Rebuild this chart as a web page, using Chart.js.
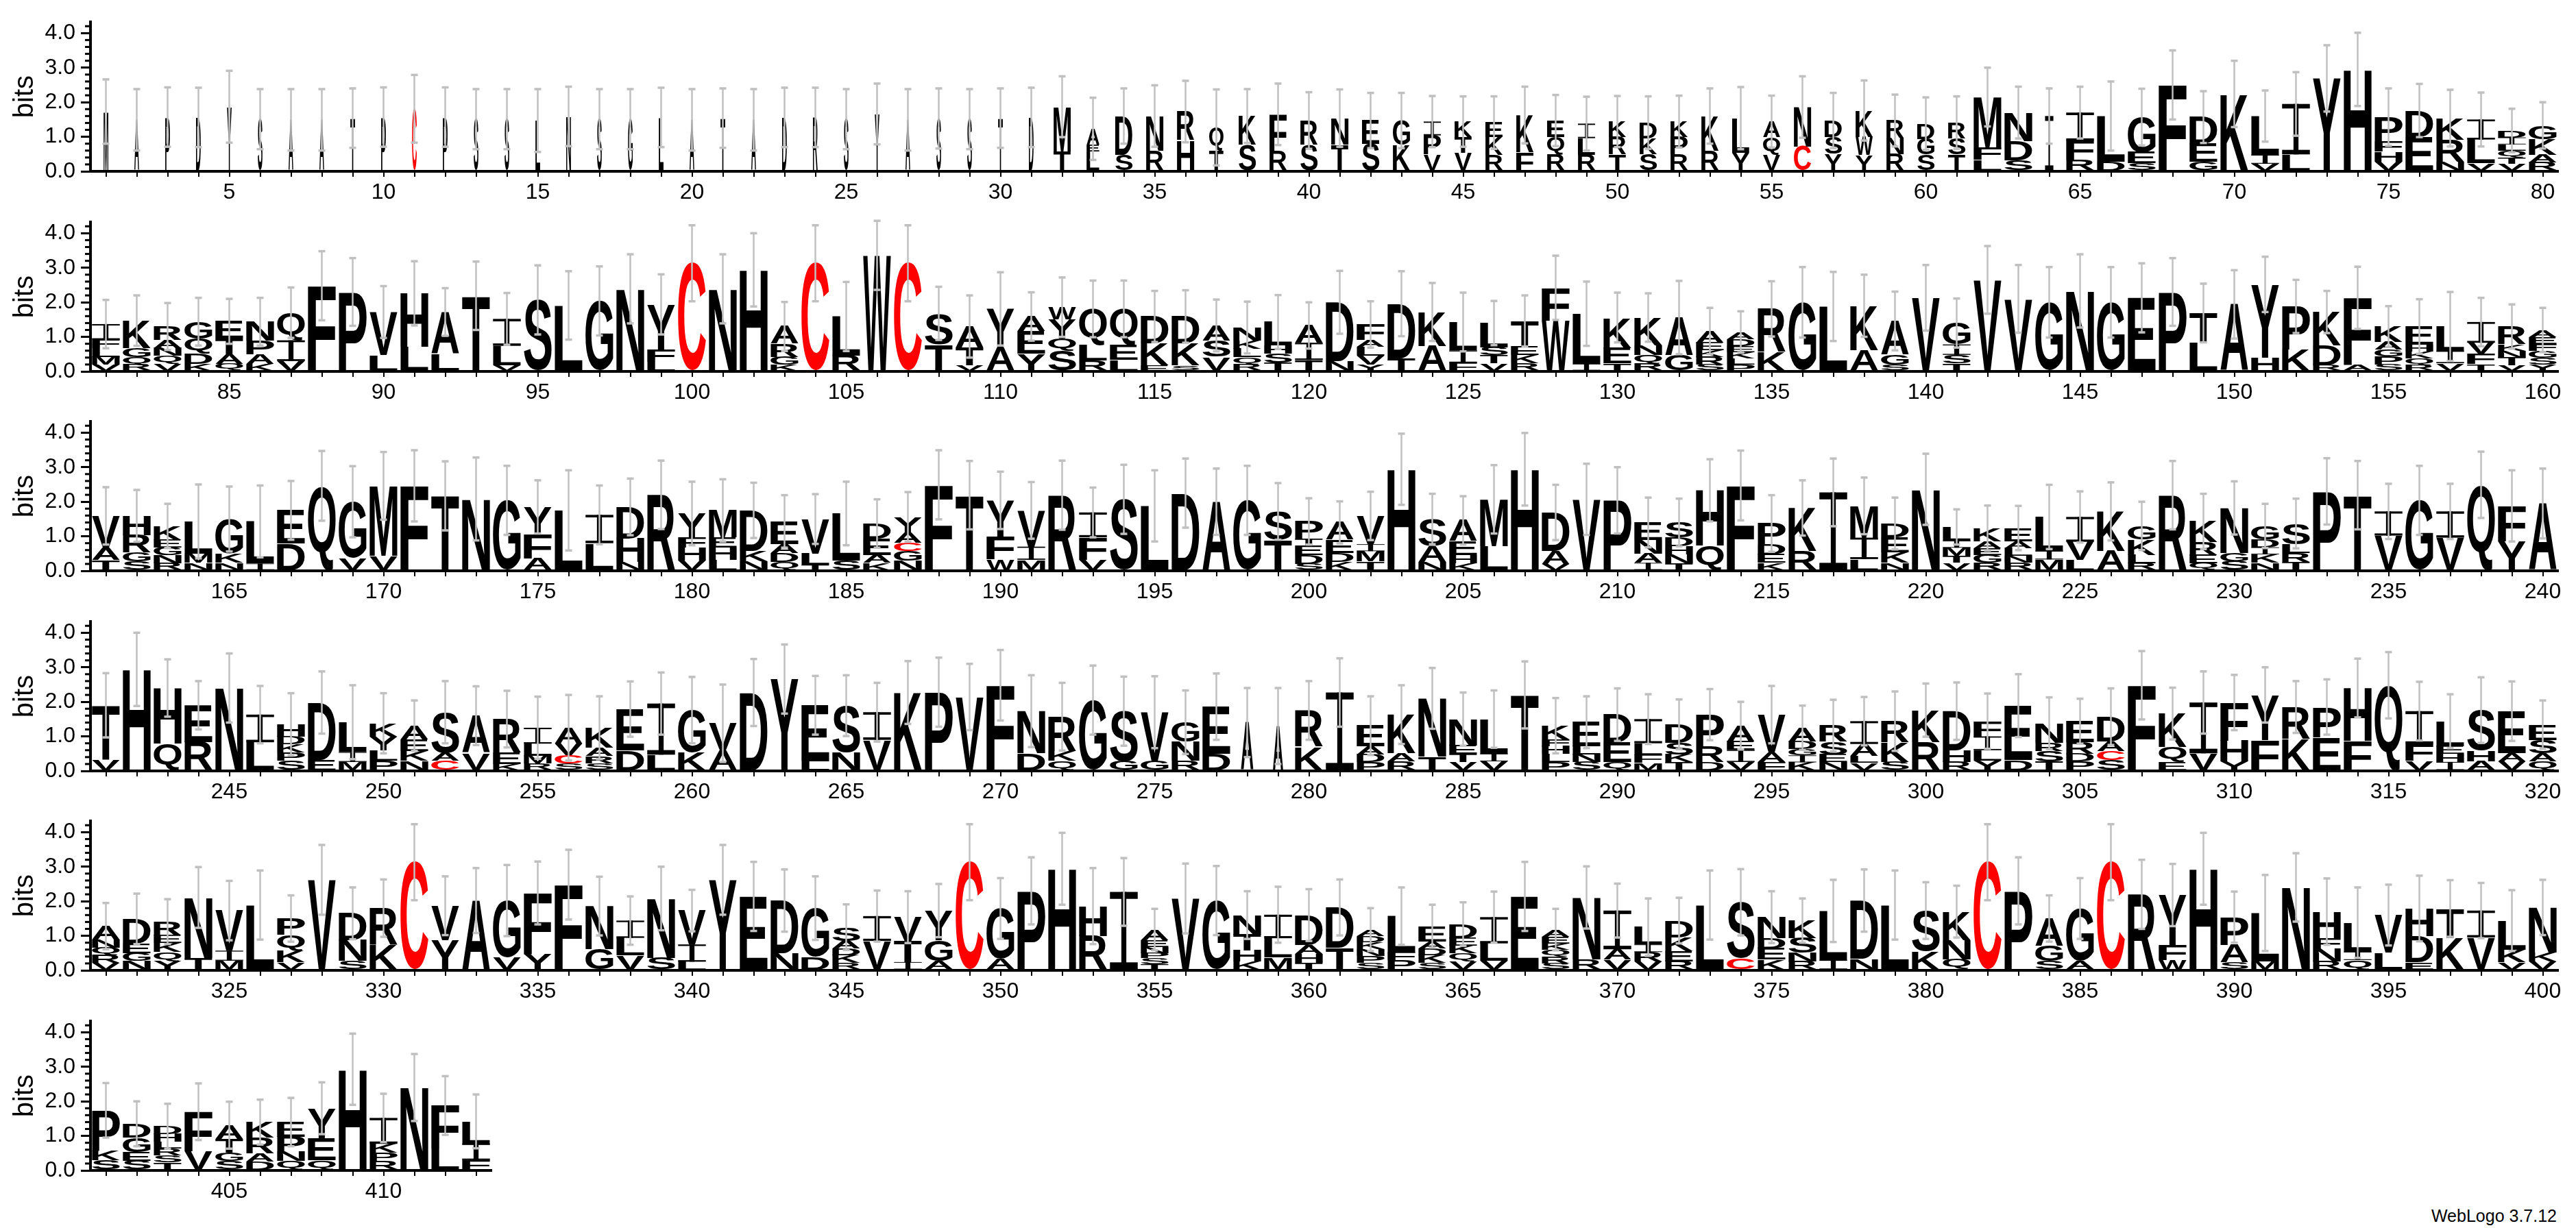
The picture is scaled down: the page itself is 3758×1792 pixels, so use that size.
<!DOCTYPE html>
<html>
<head>
<meta charset="utf-8">
<script src="https://cdn.jsdelivr.net/npm/chart.js@4.4.1/dist/chart.umd.min.js"></script>
<style>
body { margin: 0; background: #fff; width: 3758px; height: 1792px; position: relative; overflow: hidden; }
canvas { position: absolute; left: 0; }
#credit { position: absolute; right: 28px; top: 1762px; font: 25px/25px 'Liberation Sans', Arial, sans-serif; color: #000; }
</style>
</head>
<body>
<canvas id="row1" width="3758" height="292" style="top:5px"></canvas>
<canvas id="row2" width="3758" height="292" style="top:297px"></canvas>
<canvas id="row3" width="3758" height="292" style="top:588px"></canvas>
<canvas id="row4" width="3758" height="292" style="top:880px"></canvas>
<canvas id="row5" width="3758" height="292" style="top:1171px"></canvas>
<canvas id="row6" width="3758" height="292" style="top:1463px"></canvas>
<div id="credit">WebLogo 3.7.12</div>
<script>
// each stack: letters listed top -> bottom, bits in the same order
const rowStart = [1, 81, 161, 241, 321, 401];

const res1 = ["M","A","P","D","Y","S","A","A","T","P","C","P","S","S","L","N","S","G","L","A","T","A","D","R","S","Y","A","S","S","T","D",
"MT","AEL","DS","NR","RH","QT","KS","FR","RS","NT","ES","GK","IPV","KTV","EKR","KF","EQR","ILR","KRT","DKS","KPR","KR","LY","AQV","NC","DSY","KWY","RNR","DGS","RST","MFL","NDS","I","IFR","LD","GES","F","DEG","K","LIV","IL","Y","H","PFHV","DE","KRN","ILV","DILQTV","GKAR"];
const bits1 = [[1.73],[1.49],[1.57],[1.56],[1.87],[1.51],[1.49],[1.49],[1.54],[1.57],[1.81],[1.57],[1.51],[1.51],[1.47],[1.59],[1.51],[1.51],[1.56],[1.49],[1.54],[1.49],[1.56],[1.56],[1.51],[1.66],[1.49],[1.53],[1.51],[1.54],[1.56],
[1.29,0.58],[0.45,0.2,0.58],[1.12,0.48],[1.0,0.6],[0.83,0.9],[0.65,0.62],[0.83,0.77],[1.05,0.6],[0.7,0.77],[0.77,0.77],[0.67,0.8],[0.7,0.77],[0.4,0.55,0.49],[0.45,0.45,0.54],[0.42,0.52,0.47],[1.08,0.55],[0.47,0.52,0.48],[0.42,0.48,0.48],[0.45,0.5,0.49],[0.45,0.46,0.5],[0.45,0.5,0.49],[1.0,0.6],[1.0,0.54],[0.45,0.5,0.49],[1.14,0.72],[0.47,0.5,0.5],[0.77,0.52,0.47],[0.5,0.47,0.5],[0.44,0.46,0.48],[0.46,0.46,0.49],[1.45,0.36,0.34],[0.82,0.56,0.32],[1.6],[0.82,0.55,0.33],[1.32,0.28],[1.02,0.32,0.23],[2.5],[0.78,0.52,0.27],[2.24],[1.12,0.26,0.22],[1.46,0.49],[2.69],[2.95],[0.7,0.3,0.29,0.28],[0.77,0.99],[0.62,0.64,0.28],[0.58,0.68,0.24],[0.2,0.2,0.18,0.2,0.18,0.22],[0.4,0.45,0.22,0.26]];
const err1 = [0.93,0.89,0.86,0.86,1.04,0.87,0.89,0.89,0.86,0.86,0.98,0.86,0.87,0.87,0.91,0.86,0.87,0.87,0.86,0.89,0.86,0.89,0.86,0.86,0.87,0.88,0.89,0.87,0.87,0.86,0.86,
0.88,0.9,0.8,0.89,0.89,1.1,0.78,0.89,0.82,0.83,0.8,0.8,0.74,0.73,0.76,0.82,0.74,0.78,0.74,0.76,0.75,0.8,0.9,0.75,0.89,0.8,0.87,0.75,0.76,0.76,0.85,0.75,0.8,0.75,1.0,0.82,1.0,0.75,0.96,0.74,0.92,0.96,1.06,0.83,0.77,0.82,0.78,0.63,0.67];

const res2 = ["IFLMV","KGQR","RANQV","GQDK","ETAQ","NPAK","QIV","F","P","VL","HL","AL","T","ILV","S","L","G","N","YFL","C","N","H","ARGK","C","LR","W","C","ST","ATV","YA","AEY","WYQS","QLR","QEL","DKE","DKS","ASV","NKLQR","LHST","AIT",
"DN","FALVY","DT","KA","LIF","LSTV","TEKR","FW","LI","KET","KNQR","AG","AEKRS","ADEKLP","RK","G","L","KA","AGS","V","GIST","V","V","G","N","G","E","P","TL","A","YH","PK","KDR","FA","KAGPS","EHKQR","LIV","IVFT","RKNTV","AEFGSY"];
const bits2 = [[0.45,0.25,0.25,0.22,0.2],[0.8,0.25,0.22,0.2],[0.4,0.22,0.22,0.24,0.22],[0.5,0.42,0.3,0.22],[0.5,0.45,0.28,0.22],[0.55,0.4,0.27,0.22],[0.8,0.6,0.3],[2.48],[2.3],[1.25,0.47],[1.55,0.71],[1.2,0.52],[2.19],[0.78,0.56,0.18],[2.07],[1.91],[2.04],[2.39],[1.3,0.36,0.28],[3.13],[2.39],[2.94],[0.5,0.38,0.22,0.2],[3.13],[1.14,0.45],[3.36],[3.13],[0.9,0.78],[0.62,0.5,0.18],[1.13,0.68],[0.42,0.65,0.52],[0.36,0.55,0.35,0.6],[1.05,0.45,0.31],[1.05,0.42,0.34],[0.78,0.64,0.17],[0.78,0.64,0.17],[0.44,0.47,0.42],[0.38,0.24,0.24,0.21,0.2],[0.67,0.24,0.26,0.26],[0.5,0.5,0.33],
[1.7,0.3],[0.45,0.2,0.25,0.26,0.2],[1.58,0.38],[0.98,0.74],[0.82,0.36,0.25],[0.7,0.23,0.23,0.24],[0.74,0.24,0.24,0.24],[0.95,1.47],[1.45,0.22],[0.88,0.45,0.23],[0.8,0.28,0.25,0.23],[1.1,0.46],[0.33,0.22,0.2,0.22,0.2],[0.2,0.2,0.18,0.18,0.18,0.2],[1.24,0.57],[2.0],[1.88],[1.28,0.62],[0.98,0.29,0.19],[2.13],[0.62,0.3,0.24,0.24],[2.65],[2.1],[2.0],[2.33],[2.0],[2.13],[2.3],[0.86,0.83],[1.94],[2.12,0.4],[1.25,0.63],[0.96,0.58,0.18],[1.95,0.18],[0.45,0.22,0.2,0.23,0.2],[0.52,0.2,0.2,0.2,0.18],[0.7,0.36,0.24],[0.6,0.32,0.3,0.21],[0.52,0.18,0.2,0.22,0.18],[0.2,0.2,0.2,0.2,0.2,0.2]];
const err2 = [0.7,0.73,0.68,0.69,0.65,0.69,0.73,1.0,0.98,0.75,0.93,0.69,0.99,0.75,1.0,0.99,1.0,1.0,0.87,1.1,1.0,1.06,0.71,1.1,1.0,1.0,1.1,0.77,0.9,1.06,0.7,0.86,0.82,0.82,0.74,0.76,0.75,0.75,0.78,0.67,
0.91,0.67,0.94,0.84,0.85,0.64,0.74,0.93,0.93,0.72,0.7,1.06,0.67,0.6,0.8,1.02,1.0,0.9,0.85,0.95,0.71,0.98,0.98,1.02,1.06,1.02,1.0,0.98,0.85,0.99,0.8,0.77,0.61,0.9,0.59,0.79,1.0,0.7,0.64,0.64];

const res3 = ["VAT","HRGS","KEGNR","LMN","GKN","LI","ED","Q","GV","MV","F","T","N","G","YFA","L","IL","DHN","R","YFHV","MEHL","DKN","EADQ","VLT","LS","DEAK","YACGN","F","T","YFW","VIM","R","IFV","S","L","D","A","G","ST","PTEDS",
"AEDK","VIMT","H","SAN","AEHK","ML","H","DAV","V","P","ENAI","SDHNT","HQ","F","PDEK","KR","I","MIL","DEKN","N","LIMTV","KAEGR","EALNR","LIM","IVL","KA","GKLR","R","KREQ","NGS","GDIKN","SLRT","P","T","IV","G","IV","Q","FY","A"];
const bits3 = [[0.92,0.36,0.31],[0.56,0.5,0.26,0.27],[0.4,0.22,0.22,0.24,0.22],[0.94,0.25,0.24],[1.0,0.26,0.24],[1.22,0.21],[0.96,0.79],[2.46],[1.63,0.37],[2.02,0.44],[2.46],[2.17],[2.08],[2.04],[0.82,0.68,0.35],[1.75],[0.82,0.8],[0.92,0.68,0.25],[2.2],[0.68,0.3,0.38,0.3],[0.78,0.3,0.35,0.32],[1.17,0.3,0.28],[0.65,0.26,0.26,0.26],[1.0,0.33,0.17],[1.36,0.3],[0.44,0.47,0.22,0.24],[0.44,0.3,0.24,0.28,0.3],[2.49],[2.19],[1.05,0.66,0.33],[1.05,0.38,0.32],[2.19],[0.72,0.65,0.32],[2.07],[1.88],[2.25],[2.0],[2.04],[0.82,0.9],[0.5,0.2,0.28,0.25,0.2],
[0.5,0.38,0.26,0.26],[0.82,0.2,0.3,0.27],[2.94],[0.78,0.46,0.26],[0.6,0.4,0.24,0.22],[1.35,0.72],[2.94],[1.12,0.37,0.2],[2.07],[2.04],[0.5,0.4,0.27,0.23],[0.44,0.24,0.24,0.26,0.22],[1.6,0.73],[2.47],[0.6,0.3,0.24,0.23],[1.25,0.57],[2.27],[0.92,0.62,0.34],[0.4,0.44,0.3,0.23],[2.36],[0.4,0.2,0.23,0.2,0.24],[0.38,0.2,0.2,0.22,0.24],[0.38,0.2,0.22,0.2,0.24],[0.98,0.25,0.33],[0.72,0.52,0.32],[1.14,0.58],[0.4,0.44,0.24,0.22],[2.19],[0.6,0.37,0.24,0.22],[1.3,0.24,0.28],[0.4,0.22,0.2,0.24,0.24],[0.6,0.26,0.26,0.25],[2.3],[2.19],[0.7,1.02],[2.04],[0.76,0.96],[2.49],[1.02,0.86],[1.95]];
const err3 = [0.83,0.75,0.64,1.07,0.94,1.04,0.85,1.01,1.03,0.98,1.03,1.0,1.2,1.0,0.77,1.16,0.85,0.82,0.99,0.92,0.9,0.8,0.76,0.72,0.92,0.7,0.72,1.0,0.99,0.83,0.82,1.0,0.72,1.0,1.03,1.0,0.96,1.0,0.82,0.67,
0.61,0.7,1.03,0.73,0.7,0.99,1.05,0.8,1.03,0.96,0.72,0.69,0.9,1.01,0.82,0.8,0.98,0.82,0.75,1.03,0.51,0.65,0.64,0.93,0.74,0.84,0.7,0.99,0.8,0.77,0.64,0.72,0.96,0.99,0.8,1.0,0.8,0.96,1.03,1.01];

const res4 = ["TV","H","HQ","ER","N","IL","HDKPS","DE","LIM","KYLP","AEKN","SAC","AV","REK","ILMR","AVCS","KARS","ED","IL","GK","VA","D","Y","EL","SN","IV","K","P","V","F","ND","RKQ","G","SG","VG","GNR","ED","A","A","RK",
"I","EADP","KAR","NT","NETV","LIV","T","KFHLP","ELNS","DEQ","ILFM","DSKT","PRD","AEIV","VAF","ADGIK","RSEN","IALV","RKS","KR","DHR","FILY","ED","NRST","ERDP","DACS","F","KQE","IV","FHY","YF","RK","PE","HF","Q","IFV","LEHI","SHA","EAV","ESAQ"];
const bits4 = [[1.56,0.34],[2.94],[1.6,0.8],[1.06,0.84],[2.4],[0.8,0.83],[0.36,0.22,0.24,0.24,0.29],[1.66,0.32],[0.86,0.29,0.26],[0.38,0.4,0.3,0.3],[0.4,0.34,0.28,0.29],[1.18,0.22,0.3],[1.08,0.52],[0.98,0.32,0.2],[0.46,0.35,0.23,0.21],[0.46,0.34,0.23,0.22],[0.58,0.24,0.21,0.22],[1.2,0.59],[1.48,0.47],[1.22,0.54],[0.78,0.6],[2.27],[2.66],[1.62,0.28],[1.35,0.54],[0.8,0.9],[2.27],[2.28],[2.14],[2.48],[1.22,0.51],[1.0,0.28,0.29],[2.05],[1.45,0.28],[1.42,0.28],[0.56,0.56,0.29],[1.36,0.5],[1.4],[1.3],[1.05,0.7],
[2.27],[0.6,0.23,0.23,0.25],[1.12,0.24,0.27],[1.68,0.42],[0.76,0.25,0.24,0.25],[1.0,0.22,0.28],[2.2],[0.4,0.2,0.22,0.23,0.26],[0.7,0.24,0.22,0.25],[0.8,0.57,0.26],[0.7,0.34,0.22,0.24],[0.53,0.34,0.22,0.26],[0.92,0.46,0.25],[0.46,0.24,0.35,0.26],[1.1,0.27,0.26],[0.4,0.22,0.18,0.2,0.25],[0.47,0.37,0.22,0.25],[0.66,0.34,0.2,0.24],[0.62,0.56,0.26],[0.93,0.83],[1.14,0.34,0.25],[0.44,0.4,0.3,0.3],[1.58,0.31],[0.56,0.24,0.3,0.28],[0.6,0.34,0.22,0.28],[0.72,0.28,0.26,0.31],[2.48],[0.96,0.44,0.26],[1.47,0.51],[1.11,0.6,0.27],[1.3,0.9],[0.93,0.92],[0.88,0.97],[1.52,0.88],[2.48],[0.96,0.48,0.29],[0.72,0.22,0.24,0.26],[1.17,0.31,0.28],[1.22,0.24,0.27],[0.44,0.38,0.24,0.28]];
const err4 = [0.93,1.06,0.83,0.7,1.0,0.83,0.9,0.9,1.07,0.87,0.73,0.9,0.85,0.82,0.9,0.95,0.91,0.8,0.9,0.96,1.12,0.97,1.0,0.85,0.88,0.85,0.91,1.0,0.96,1.02,1.04,0.98,1.0,1.0,1.04,0.92,0.96,1.0,1.1,0.85,
0.99,0.85,0.85,0.88,0.77,0.83,0.97,0.8,0.75,0.76,0.72,0.72,0.74,0.69,0.83,0.64,0.75,0.7,0.86,0.77,0.83,0.8,0.91,0.75,0.65,0.82,0.99,0.75,0.9,0.8,0.8,0.75,0.8,0.85,0.96,0.85,0.78,0.95,0.86,0.7];

const res5 = ["ANQRV","DEGN","REKQY","NT","VIM","L","PQKV","V","DNS","RK","C","VY","A","GV","FY","F","NG","ILV","NS","VIL","Y","E","DN","GD","SADKR","IV","VTI","YGA","C","GA","P","H","HR","I","AENPST","V","G","NTHK","ILM","DAHT",
"DT","ADKNPS","LFP","EADKS","DEKQV","ILV","E","AEKQRS","NR","IAV","LIRV","DKER","L","SC","NDEK","KSNR","LI","DN","L","SK","KNQ","C","P","AGS","GA","C","R","YFW","H","PAS","LM","N","HFNR","LIQ","VL","HDE","TK","IV","LKV","NKV"];
const bits5 = [[0.4,0.22,0.22,0.22,0.22],[0.72,0.27,0.22,0.28],[0.4,0.22,0.26,0.26,0.27],[1.75,0.36],[1.16,0.29,0.28],[1.89],[0.47,0.47,0.32,0.24],[2.62],[0.78,0.6,0.27],[1.06,0.74],[3.13],[0.99,0.88],[2.02],[1.64,0.38],[1.76,0.48],[2.48],[1.24,0.62],[0.5,0.5,0.44],[1.72,0.36],[0.98,0.5,0.25],[2.62],[2.14],[1.52,0.5],[1.41,0.39],[0.4,0.22,0.2,0.22,0.21],[0.72,0.85],[0.7,0.6,0.24],[0.86,0.6,0.27],[3.13],[1.46,0.33],[2.3],[2.94],[0.86,1.0],[2.27],[0.3,0.2,0.18,0.15,0.17,0.18],[2.08],[2.02],[0.56,0.47,0.32,0.25],[0.68,0.56,0.37],[0.86,0.26,0.26,0.22],
[1.17,0.65],[0.18,0.18,0.2,0.2,0.2,0.22],[1.03,0.24,0.3],[0.44,0.2,0.2,0.22,0.22],[0.4,0.22,0.22,0.24,0.26],[0.76,0.5,0.28],[2.14],[0.2,0.2,0.18,0.2,0.2,0.2],[1.8,0.31],[1.12,0.3,0.31],[0.5,0.22,0.27,0.26],[0.48,0.4,0.31,0.25],[1.89],[1.62,0.35],[0.6,0.3,0.33,0.31],[0.5,0.44,0.25,0.25],[1.42,0.3],[1.68,0.34],[1.89],[1.18,0.55],[0.82,0.57,0.31],[3.13],[2.3],[0.79,0.44,0.27],[1.52,0.27],[3.13],[2.2],[1.44,0.44,0.3],[2.94],[0.8,0.5,0.24],[1.4,0.26],[2.4],[0.76,0.3,0.38,0.26],[0.84,0.24,0.3],[1.08,0.52],[0.79,0.76,0.24],[0.85,0.94],[0.78,0.95],[0.84,0.36,0.24],[1.31,0.26,0.25]];
const err5 = [0.67,0.73,0.65,0.88,0.86,1.0,0.67,1.01,0.75,0.83,1.1,0.85,0.94,1.03,0.91,1.01,0.85,0.7,0.92,0.6,1.01,1.0,0.9,0.92,0.66,0.74,0.75,0.77,1.1,0.88,0.97,1.04,1.1,0.98,0.6,1.01,1.0,0.69,0.81,0.75,
0.81,0.62,0.83,0.62,0.63,0.74,1.0,0.6,0.9,0.78,0.83,0.66,1.0,0.96,0.75,0.64,0.9,0.9,1.0,0.82,0.75,1.1,0.97,0.67,0.88,1.1,1.0,0.9,1.04,0.74,1.1,0.99,0.96,1.02,0.88,0.95,0.82,0.8,0.88,0.8];

const res6 = ["PKS","DGES","DHLRST","FV","ATGS","KRAD","EPNQ","YEQ","H","IKPR","N","FL","LIF"];
const bits6 = [[1.18,0.27,0.29],[0.4,0.42,0.25,0.28],[0.22,0.23,0.2,0.2,0.2,0.23],[1.15,0.55],[0.4,0.4,0.24,0.27],[0.45,0.46,0.24,0.25],[0.42,0.42,0.28,0.28],[0.86,0.64,0.3],[2.93],[0.75,0.26,0.24,0.27],[2.4],[1.24,0.64],[0.64,0.48,0.3]];
const err6 = [0.79,0.65,0.65,0.82,0.68,0.65,0.7,0.75,1.03,0.7,0.97,0.85,0.78];

// columns drawn narrower (mostly gaps in the alignment)
const narrowFrom = [1, 32, 33, 37, 64, 278, 279];
const narrowTo = [31, 61, 33, 37, 64, 278, 279];
const narrowFrac = [0.17, 0.62, 0.46, 0.52, 0.3, 0.45, 0.37];

const yTicks = [0, 1, 2, 3, 4];
const yMinorTicks = [0.2,0.4,0.6,0.8,1.2,1.4,1.6,1.8,2.2,2.4,2.6,2.8,3.2,3.4,3.6,3.8,4.2];
const yMax = 4.32;

Chart.defaults.font.family = "'Liberation Sans', Arial, sans-serif";
Chart.defaults.color = '#000';

let glyphBox = {};
function drawGlyph(ctx, ch, x0, y0, w, h, color) {
    ctx.save();
    ctx.fillStyle = color;
    if (ch === 'I') {
        // serif I like the logo font, not a solid block
        let bar = h * 0.09;
        ctx.fillRect(x0, y0, w, bar);
        ctx.fillRect(x0, y0 + h - bar, w, bar);
        ctx.fillRect(x0 + w * 0.41, y0, w * 0.18, h);
        ctx.restore();
        return;
    }
    ctx.font = 'bold 200px "Liberation Sans", Arial, sans-serif';
    ctx.textAlign = 'left';
    ctx.textBaseline = 'alphabetic';
    if (!glyphBox[ch]) {
        let m = ctx.measureText(ch);
        glyphBox[ch] = { l: m.actualBoundingBoxLeft, r: m.actualBoundingBoxRight, a: m.actualBoundingBoxAscent, d: m.actualBoundingBoxDescent };
    }
    let g = glyphBox[ch];
    ctx.translate(x0, y0);
    ctx.scale(w / (g.l + g.r), h / (g.a + g.d));
    ctx.fillText(ch, g.l, g.a);
    ctx.restore();
}

function colFrac(pos) {
    let f = 1;
    for (let k = 0; k < narrowFrom.length; k++) {
        if (pos >= narrowFrom[k] && pos <= narrowTo[k]) f = narrowFrac[k];
    }
    return f;
}

function makeRow(id, start, res, bits, err) {
    let n = res.length;
    let labels = res.map((s, i) => String(start + i));
    let totals = bits.map(b => b.reduce((a, c) => a + c, 0));
    let fracs = labels.map(l => colFrac(+l));
    let depth = Math.max(...res.map(s => s.length));

    let datasets = [];
    for (let k = 0; k < depth; k++) {
        // k = 0 is the bottom letter of each stack
        datasets.push({
            data: res.map((s, i) => k < s.length ? bits[i][s.length - 1 - k] : 0),
            letters: res.map(s => k < s.length ? s[s.length - 1 - k] : ''),
            backgroundColor: 'rgba(0,0,0,0)',
            borderWidth: 0,
            categoryPercentage: 1,
            barPercentage: 1
        });
    }

    let logo = {
        id: 'logo',
        afterDatasetsDraw(chart) {
            let ctx = chart.ctx;
            let y = chart.scales.y;
            chart.data.datasets.forEach((ds, d) => {
                chart.getDatasetMeta(d).data.forEach((bar, i) => {
                    let ch = ds.letters[i];
                    if (!ch) return;
                    let h = bar.base - bar.y;
                    if (h < 0.5) return;
                    let w = bar.width * 0.9 * fracs[i];
                    drawGlyph(ctx, ch, bar.x - w / 2, bar.y, w, h, ch === 'C' ? '#ff0000' : '#000000');
                });
            });
            // error bars on top of the letters
            ctx.save();
            ctx.strokeStyle = '#c0c0c0';
            ctx.fillStyle = '#c0c0c0';
            ctx.lineWidth = 2.5;
            chart.getDatasetMeta(0).data.forEach((bar, i) => {
                let hi = y.getPixelForValue(totals[i] + err[i]);
                let lo = y.getPixelForValue(Math.max(totals[i] - err[i], 0));
                ctx.beginPath();
                ctx.moveTo(bar.x, hi);
                ctx.lineTo(bar.x, lo);
                ctx.stroke();
                ctx.fillRect(bar.x - 5, hi - 1.75, 10, 3.5);
                ctx.fillRect(bar.x - 5, lo - 1.75, 10, 3.5);
            });
            ctx.restore();
        },
        afterDraw(chart) {
            let ctx = chart.ctx;
            let y = chart.scales.y;
            let x0 = chart.chartArea.left;
            ctx.save();
            ctx.fillStyle = '#000';
            yMinorTicks.forEach(v => {
                let py = y.getPixelForValue(v);
                ctx.fillRect(x0 - 8, py - 1.5, 8, 3);
            });
            ctx.restore();
        }
    };

    new Chart(document.getElementById(id), {
        type: 'bar',
        data: { labels: labels, datasets: datasets },
        options: {
            responsive: false,
            animation: false,
            devicePixelRatio: 1,
            layout: { padding: { top: 20, left: 0, bottom: 0, right: 3758 - 132 - n * 45 } },
            plugins: { legend: { display: false }, tooltip: { enabled: false } },
            scales: {
                x: {
                    stacked: true,
                    afterFit(s) { s.height = 47; },
                    grid: { display: true, drawOnChartArea: false, drawTicks: true, tickLength: 8, lineWidth: 2, color: '#000', offset: false },
                    border: { display: true, color: '#000', width: 4 },
                    ticks: {
                        autoSkip: false, maxRotation: 0, padding: 4,
                        font: { size: 32 },
                        callback: function (v) {
                            let lab = this.getLabelForValue(v);
                            return (+lab % 5 === 0) ? lab : '';
                        }
                    }
                },
                y: {
                    stacked: true,
                    min: 0,
                    max: yMax,
                    afterFit(s) { s.width = 132; },
                    afterBuildTicks(s) { s.ticks = yTicks.map(v => ({ value: v })); },
                    grid: { display: true, drawOnChartArea: false, drawTicks: true, tickLength: 14, lineWidth: 3, color: '#000' },
                    border: { display: true, color: '#000', width: 4 },
                    ticks: { padding: 8, font: { size: 32 }, callback: v => v.toFixed(1) },
                    title: { display: true, text: 'bits', font: { size: 40 }, padding: { top: 13, bottom: 0 } }
                }
            }
        },
        plugins: [logo]
    });
}

makeRow('row1', rowStart[0], res1, bits1, err1);
makeRow('row2', rowStart[1], res2, bits2, err2);
makeRow('row3', rowStart[2], res3, bits3, err3);
makeRow('row4', rowStart[3], res4, bits4, err4);
makeRow('row5', rowStart[4], res5, bits5, err5);
makeRow('row6', rowStart[5], res6, bits6, err6);
</script>
</body>
</html>
